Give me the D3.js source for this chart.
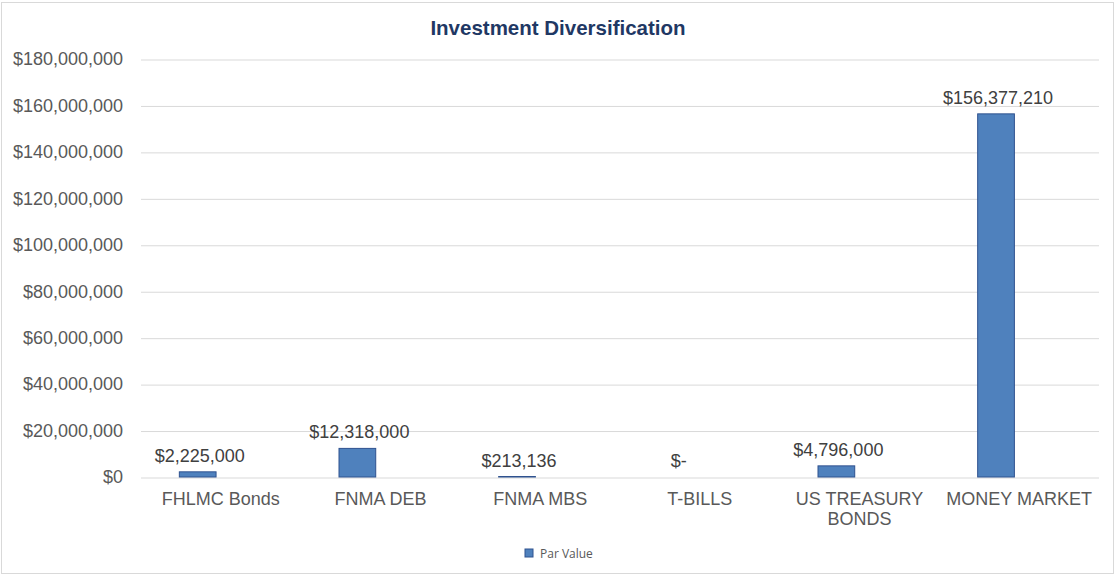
<!DOCTYPE html>
<html lang="en">
<head>
    <meta charset="UTF-8">
    <title>Investment Diversification</title>
    <style>
        body { margin: 0; background: #fff; }
        svg { display: block; font-family: "Liberation Sans", Arial, sans-serif; }
        .grid line { stroke: #d9d9d9; stroke-width: 1px; }
        .grid .domain { display: none; }
        .ylab text { fill: #595959; font-size: 18px; }
        .xlab text { fill: #595959; font-size: 18px; }
        .bar { fill: #4f81bd; stroke: #2f528f; stroke-width: 1px; }
        .val { fill: #404040; font-size: 18px; }
    </style>
    <script src="https://d3js.org/d3.v7.min.js"></script>
</head>
<body>
    <svg width="1116" height="576"></svg>
    <script>
        // chart data
        const categories = ["FHLMC Bonds", "FNMA DEB", "FNMA MBS", "T-BILLS", "US TREASURY BONDS", "MONEY MARKET"];
        const parValue = [2225000, 12318000, 213136, 0, 4796000, 156377210];
        const yTicks = [0, 20000000, 40000000, 60000000, 80000000, 100000000, 120000000, 140000000, 160000000, 180000000];
        const seriesName = "Par Value";
        const title = "Investment Diversification";

        const width = 1116, height = 576;
        const margin = { top: 59, right: 17, bottom: 99, left: 141 };
        const svg = d3.select("svg");

        // outer chart border
        svg.append("rect")
            .attr("x", 1.5).attr("y", 2.5)
            .attr("width", width - 4).attr("height", height - 5)
            .attr("fill", "#fff").attr("stroke", "#d9d9d9");

        svg.append("text")
            .attr("x", 558).attr("y", 35)
            .attr("text-anchor", "middle")
            .attr("font-size", 20.5).attr("font-weight", "bold")
            .attr("fill", "#1f3864")
            .text(title);

        const x = d3.scaleBand()
            .domain(categories)
            .range([margin.left, width - margin.right]);

        const y = d3.scaleLinear()
            .domain([0, 180000000])
            .range([height - margin.bottom, margin.top]);

        // gridlines
        svg.append("g")
            .attr("class", "grid")
            .attr("transform", `translate(${margin.left},0)`)
            .call(d3.axisLeft(y).tickValues(yTicks)
                .tickSize(-(width - margin.left - margin.right)).tickFormat(""))
            .selectAll("line").attr("transform", "translate(0,0.5)");

        // y tick labels
        const fmt = d3.format("$,.0f");
        svg.append("g")
            .attr("class", "ylab")
            .selectAll("text")
            .data(yTicks)
            .join("text")
            .attr("x", 123)
            .attr("y", d => y(d))
            .attr("dy", "0.35em")
            .attr("text-anchor", "end")
            .text(d => fmt(d));

        // bars (first of a clustered pair, so shifted left of the band centre)
        const barW = x.bandwidth() * 0.23;
        const barCx = c => x(c) + x.bandwidth() / 2 - barW * 0.63;
        const rows = categories.map((c, i) => ({ cat: c, v: parValue[i] }));

        svg.append("g")
            .selectAll("rect")
            .data(rows.filter(d => d.v > 0))
            .join("rect")
            .attr("class", "bar")
            .attr("x", d => barCx(d.cat) - barW / 2)
            .attr("y", d => y(d.v))
            .attr("width", barW)
            .attr("height", d => Math.max(0.5, y(0) - y(d.v)));

        // data labels
        svg.append("g")
            .selectAll("text")
            .data(rows)
            .join("text")
            .attr("class", "val")
            .attr("x", d => barCx(d.cat) + 2)
            .attr("y", d => y(d.v) - 10)
            .attr("text-anchor", "middle")
            .text(d => d.v === 0 ? "$-" : fmt(d.v));

        // category labels, wrapped
        const xl = svg.append("g").attr("class", "xlab");
        categories.forEach(c => {
            const lines = c === "US TREASURY BONDS" ? ["US TREASURY", "BONDS"] : [c];
            const t = xl.append("text")
                .attr("text-anchor", "middle")
                .attr("x", x(c) + x.bandwidth() / 2)
                .attr("y", 505);
            lines.forEach((l, i) => {
                t.append("tspan")
                    .attr("x", x(c) + x.bandwidth() / 2)
                    .attr("dy", i === 0 ? 0 : 20)
                    .text(l);
            });
        });

        // legend
        const lg = svg.append("g").attr("transform", "translate(525,549)");
        lg.append("rect")
            .attr("width", 8).attr("height", 8)
            .attr("fill", "#4f81bd").attr("stroke", "#2f528f");
        lg.append("text")
            .attr("x", 15).attr("y", 8.5)
            .attr("font-family", "'Open Sans', sans-serif")
            .attr("font-size", 12).attr("fill", "#595959")
            .text(seriesName);
    </script>
</body>
</html>
